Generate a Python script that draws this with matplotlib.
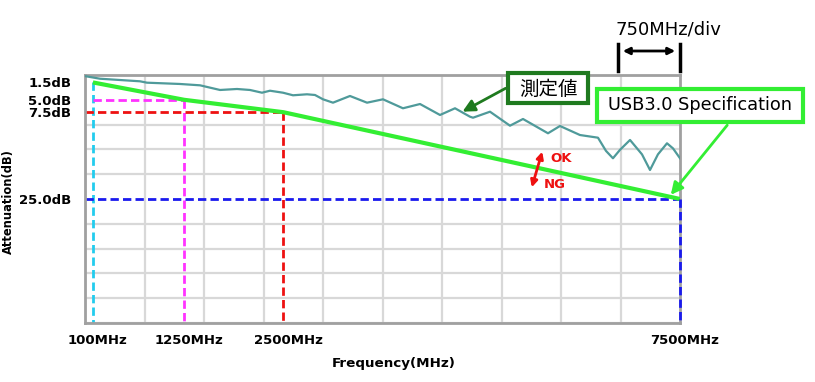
import matplotlib
matplotlib.use("Agg")
import matplotlib.pyplot as plt
import matplotlib.transforms as mtransforms
from matplotlib.patches import Rectangle, FancyArrowPatch
from matplotlib.ticker import MultipleLocator

# ---------------- data ----------------
meas_freq = [13, 189, 441, 693, 781, 1197, 1450, 1702, 1916, 2080, 2231, 2332,
             2496, 2622, 2798, 2899, 3000, 3126, 3340, 3555, 3756, 4008, 4223,
             4475, 4664, 4853, 4891, 5105, 5357, 5521, 5836, 5987, 6239, 6466,
             6567, 6655, 6743, 6870, 7021, 7122, 7222, 7336, 7412, 7500]
meas_att = [0.26, 0.75, 1.01, 1.27, 1.55, 1.81, 2.08, 3.02, 2.82, 3.02, 3.57, 3.17,
            3.57, 4.09, 3.89, 4.03, 4.90, 5.58, 4.23, 5.58, 4.90, 6.71, 5.85,
            8.06, 6.71, 8.41, 8.61, 7.40, 10.22, 8.87, 11.75, 10.28, 12.10, 12.64,
            15.3, 16.79, 15.1, 13.10, 16.0, 19.15, 16.0, 13.77, 14.8, 16.79]

spec_freq = [100, 1250, 2500, 7500]
spec_att = [1.5, 5.0, 7.5, 25.0]

ytick_vals = [1.5, 5.0, 7.5, 25.0]
ytick_labels = ["1.5dB", "5.0dB", "7.5dB", "25.0dB"]
xtick_vals = [100, 1250, 2500, 7500]
xtick_labels = ["100MHz", "1250MHz", "2500MHz", "7500MHz"]

# ---------------- figure ----------------
W, H = 815, 382
fig = plt.figure(figsize=(W / 100, H / 100), dpi=100)
P = mtransforms.Affine2D().scale(1 / W, -1 / H).translate(0, 1) + fig.transFigure

ax = fig.add_axes([85 / W, 1 - 323 / H, 595 / W, 248 / H])
ax.set_xlim(0, 7500)
ax.set_ylim(50, 0)

ax.xaxis.set_minor_locator(MultipleLocator(750))
ax.yaxis.set_minor_locator(MultipleLocator(5))
ax.grid(which="minor", color="#d8d8d8", lw=1.6, zorder=0)
ax.grid(which="major", visible=False)
ax.tick_params(which="both", length=0)

for s in ax.spines.values():
    s.set_color("#a0a0a0")
    s.set_linewidth(2)

ax.set_yticks(ytick_vals)
ax.set_yticklabels(ytick_labels, fontsize=9.5, fontweight="bold", family="DejaVu Sans")
ax.tick_params(axis="y", pad=10)
ax.set_xticks(xtick_vals)
ax.set_xticklabels(xtick_labels, fontsize=9.5, fontweight="bold", family="DejaVu Sans")
ax.tick_params(axis="x", pad=8)
off = mtransforms.ScaledTranslation(5 / 100, 0, fig.dpi_scale_trans)
for lbl in ax.get_xticklabels():
    lbl.set_transform(lbl.get_transform() + off)

ax.set_xlabel("Frequency(MHz)", fontsize=9.7, fontweight="bold")
ax.xaxis.set_label_coords((394 - 85) / 595, (323 - 357) / 248)
ax.set_ylabel("Attenuation(dB)", fontsize=8.3, fontweight="bold")
ax.yaxis.set_label_coords((15 - 85) / 595, (323 - 202) / 248)

dash = (0, (3.0, 1.5))
lwd = 2.0
# reference dashed lines
ax.plot([spec_freq[0], spec_freq[0]], [spec_att[0], 50], color="#22ccee", lw=lwd, ls=dash, zorder=2)
ax.plot([spec_freq[0], spec_freq[1]], [spec_att[1], spec_att[1]], color="#ff33ff", lw=lwd, ls=dash, zorder=2)
ax.plot([spec_freq[1], spec_freq[1]], [spec_att[1], 50], color="#ff33ff", lw=lwd, ls=dash, zorder=2)
ax.plot([0, spec_freq[2]], [spec_att[2], spec_att[2]], color="#ee1111", lw=lwd, ls=dash, zorder=2)
ax.plot([spec_freq[2], spec_freq[2]], [spec_att[2], 50], color="#ee1111", lw=lwd, ls=dash, zorder=2)
ax.plot([0, spec_freq[3]], [spec_att[3], spec_att[3]], color="#1a1aee", lw=lwd, ls=dash, zorder=2)
ax.plot([spec_freq[3], spec_freq[3]], [spec_att[3], 50], color="#1a1aee", lw=lwd, ls=dash, zorder=4, clip_on=False)

# spec line and measured curve
ax.plot(spec_freq, spec_att, color="#33ee33", lw=3, zorder=3, solid_capstyle="butt")
ax.plot(meas_freq, meas_att, color="#4f9a9a", lw=1.6, zorder=3, solid_joinstyle="round")

# ---------------- annotations (pixel coordinates) ----------------
# 750MHz/div bracket
fig.text(668 / W, 1 - 30 / H, "750MHz/div", fontsize=13, ha="center", va="center")
for xp in (618, 680):
    fig.add_artist(plt.Line2D([xp, xp], [44, 71], color="black", lw=2.5, transform=P))
fig.add_artist(FancyArrowPatch((620, 51), (678, 51), transform=P, arrowstyle="<|-|>",
                               mutation_scale=10, color="black", lw=2))

# measured value box
fig.add_artist(Rectangle((508, 73), 80, 30, transform=P, fill=True, facecolor="white",
                         edgecolor="#1f7a1f", lw=3, zorder=5))
fig.text(548 / W, 1 - 89 / H, "測定値", fontsize=14, ha="center", va="center",
         family=["Noto Sans CJK JP", "DejaVu Sans"], zorder=6)
fig.add_artist(FancyArrowPatch((508, 87), (460, 113), transform=P, arrowstyle="-|>",
                               mutation_scale=18, color="#1f7a1f", lw=2, zorder=5))

# spec box
fig.add_artist(Rectangle((597, 89), 206, 33, transform=P, fill=True, facecolor="white",
                         edgecolor="#33ee33", lw=3, zorder=5))
fig.text(700 / W, 1 - 105 / H, "USB3.0 Specification", fontsize=12.8, ha="center",
         va="center", zorder=6)
fig.add_artist(FancyArrowPatch((729, 123), (669, 197), transform=P, arrowstyle="-|>",
                               mutation_scale=18, color="#33ee33", lw=2, zorder=5))

# OK / NG arrow
fig.add_artist(FancyArrowPatch((543, 149), (531, 190), transform=P, arrowstyle="<|-|>",
                               mutation_scale=10, color="#ee1111", lw=2, zorder=5))
fig.text(561 / W, 1 - 158 / H, "OK", fontsize=9.5, fontweight="bold", color="#ee1111",
         ha="center", va="center")
fig.text(555 / W, 1 - 184 / H, "NG", fontsize=9.5, fontweight="bold", color="#ee1111",
         ha="center", va="center")

fig.savefig("out.png", dpi=100)
